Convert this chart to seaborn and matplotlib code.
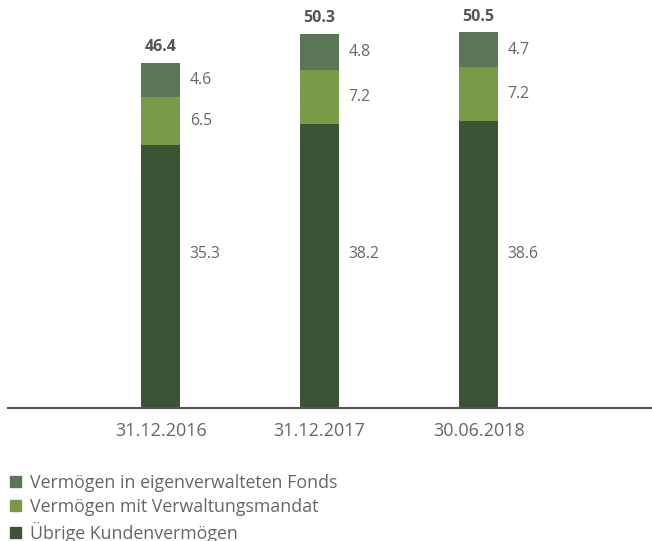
import numpy as np
import pandas as pd
import matplotlib
matplotlib.use("Agg")
import matplotlib.pyplot as plt
import seaborn as sns
from matplotlib.patches import Patch

# 数据
dates = ['31.12.2016', '31.12.2017', '30.06.2018']
uebrige = [35.3, 38.2, 38.6]
mandat = [6.5, 7.2, 7.2]
fonds = [4.6, 4.8, 4.7]
totals = [46.4, 50.3, 50.5]
series_names = ['Vermögen in eigenverwalteten Fonds',
                'Vermögen mit Verwaltungsmandat',
                'Übrige Kundenvermögen']

c_fonds = '#5b7557'
c_mandat = '#7a9a47'
c_uebrig = '#3d5336'
txt = '#666666'

sns.set_theme(style='white')
plt.rcParams['font.family'] = ['Open Sans', 'DejaVu Sans']

df = pd.DataFrame({'date': dates, 'u': uebrige, 'm': mandat, 'f': fonds})
df['um'] = df['u'] + df['m']
df['umf'] = df['um'] + df['f']

fig = plt.figure(figsize=(6.52, 5.41), dpi=100)
ax = fig.add_axes([8 / 652, 133 / 541, 644 / 652, 408 / 541])

# 叠加画出堆积柱
for col, c in [('umf', c_fonds), ('um', c_mandat), ('u', c_uebrig)]:
    sns.barplot(data=df, x='date', y=col, color=c, width=0.245,
                saturation=1, ax=ax, linewidth=0)

ax.set_xlim(-0.96, 3.09)
ax.set_ylim(0, 54.8)

# 数值标签 (unterste Werte stehen alle auf gleicher Höhe)
y_low = 20.7
for i in range(len(dates)):
    xr = i + 0.245 / 2 + 0.06
    ax.text(xr, y_low, f'{uebrige[i]:.1f}', va='center', ha='left',
            fontsize=11.3, color=txt)
    ax.text(xr, uebrige[i] + mandat[i] / 2, f'{mandat[i]:.1f}', va='center',
            ha='left', fontsize=11.3, color=txt)
    ax.text(xr, uebrige[i] + mandat[i] + fonds[i] / 2, f'{fonds[i]:.1f}',
            va='center', ha='left', fontsize=11.3, color=txt)
    ax.text(i, totals[i] + 1.0, f'{totals[i]:.1f}', va='bottom', ha='center',
            fontsize=11.5, color='#555555', fontweight='bold')

for s in ['top', 'right', 'left']:
    ax.spines[s].set_visible(False)
ax.spines['bottom'].set_color('#555555')
ax.spines['bottom'].set_linewidth(1.5)
ax.set_yticks([])
ax.set_xlabel('')
ax.set_ylabel('')
ax.tick_params(axis='x', length=0, pad=10, labelsize=13, labelcolor=txt)

handles = [Patch(color=c_fonds), Patch(color=c_mandat), Patch(color=c_uebrig)]
fig.legend(handles, series_names, loc='lower left', bbox_to_anchor=(-0.003, -0.026),
           frameon=False, fontsize=12.8, labelcolor=txt, handlelength=0.6,
           handleheight=0.6, handletextpad=0.5, labelspacing=0.33,
           borderaxespad=0.3)

fig.savefig('out.png', dpi=100)
